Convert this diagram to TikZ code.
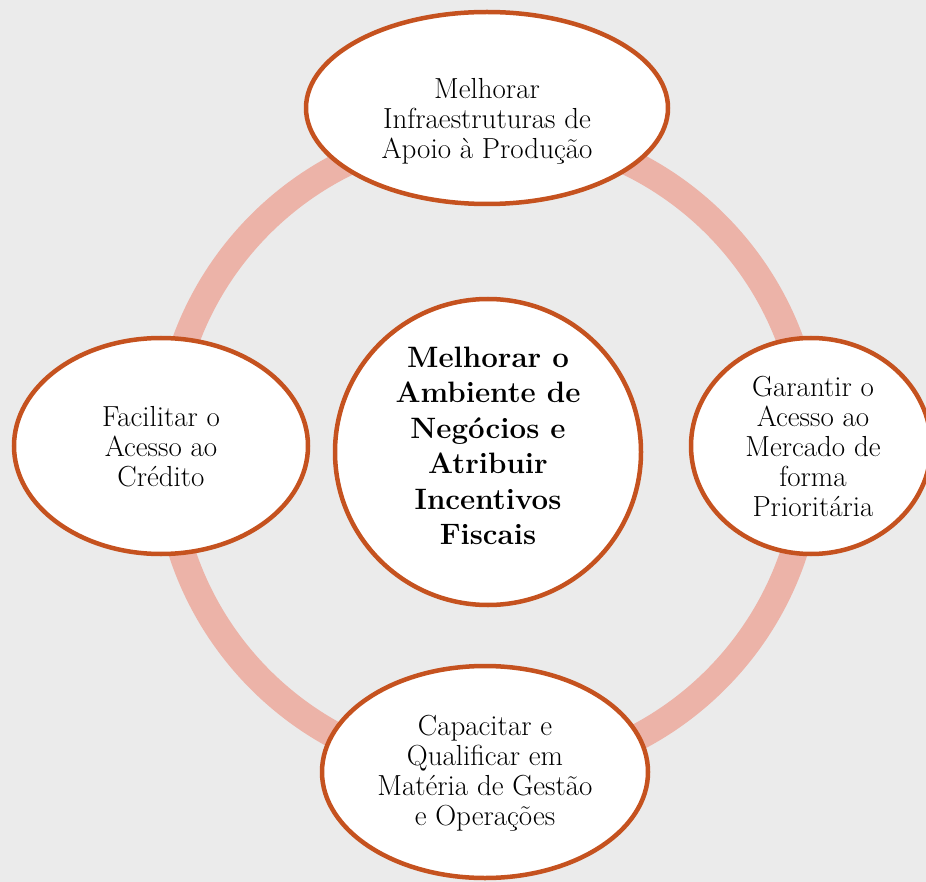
\documentclass[tikz,border=0pt]{standalone}
\usetikzlibrary{shapes.geometric}
\definecolor{bgc}{HTML}{EBEBEB}
\definecolor{ringc}{HTML}{ECB3A8}
\definecolor{edgec}{HTML}{C5521F}
\tikzset{
  bubble/.style={ellipse, draw=edgec, line width=4.5pt, fill=white, inner sep=0pt},
  label text/.style={align=center, font=\fontsize{29}{30}\selectfont, text=black},
  hub text/.style={align=center, font=\fontsize{29.5}{35.5}\selectfont\bfseries, text=black},
  ringline/.style={draw=ringc, line width=27pt}
}
\begin{document}
\begin{tikzpicture}[x=1pt,y=-1pt]
\fill[bgc] (0,0) rectangle (926,882);
\useasboundingbox (0,0) rectangle (926,882);
\coordinate (c) at (488,452);
\draw[ringline] (c) circle[radius=322];
\node[bubble, minimum width=362pt, minimum height=192pt] (top) at (487,108) {};
\node[label text] (toptext) at (487,121) {Melhorar\\Infraestruturas de\\Apoio à Produção};
\node[bubble, minimum width=240pt, minimum height=216pt] (right) at (811,446) {};
\node[label text] (righttext) at (813,446) {Garantir o\\Acesso ao\\Mercado de\\forma\\Prioritária};
\node[bubble, minimum width=294pt, minimum height=216pt] (left) at (161,446) {};
\node[label text] (lefttext) at (161,447) {Facilitar o\\Acesso ao\\Crédito};
\node[bubble, minimum width=326pt, minimum height=212pt] (bottom) at (485,772) {};
\node[label text] (bottomtext) at (485,773) {Capacitar e\\Qualificar em\\Matéria de Gestão\\e Operações};
\node[bubble, circle, minimum size=306pt] (hub) at (488,452) {};
\node[hub text] (hubtext) at (488,446) {Melhorar o\\Ambiente de\\Negócios e\\Atribuir\\Incentivos\\Fiscais};
\end{tikzpicture}
\end{document}
